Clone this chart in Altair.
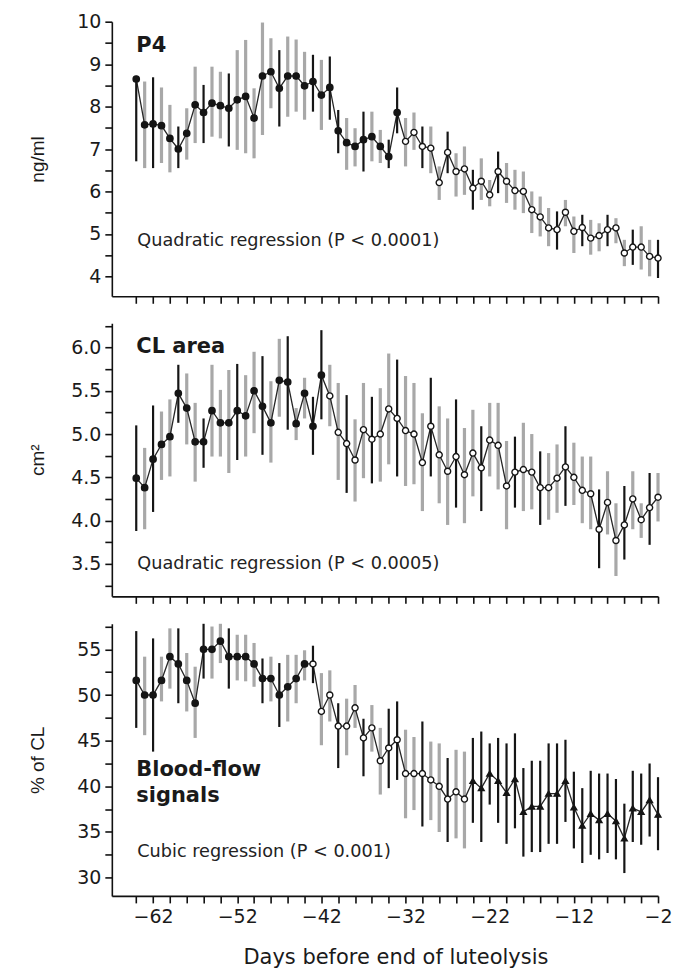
import altair as alt
import pandas as pd

# Days before end of luteolysis (one value per day)
days = list(range(-64, -1))

# Progesterone (ng/ml): mean and whisker ends
p4_mean = [8.65, 7.57, 7.59, 7.55, 7.25, 7.00, 7.37, 8.04, 7.86, 8.08,
           8.02, 7.96, 8.16, 8.24, 7.73, 8.72, 8.82, 8.43, 8.72, 8.72,
           8.49, 8.59, 8.27, 8.45, 7.43, 7.15, 7.06, 7.22, 7.29, 7.06,
           6.82, 7.86, 7.18, 7.39, 7.06, 7.02, 6.21, 6.92, 6.47, 6.53,
           6.08, 6.24, 5.92, 6.47, 6.24, 6.02, 6.00, 5.57, 5.40, 5.14,
           5.10, 5.51, 5.06, 5.15, 4.90, 4.96, 5.10, 5.14, 4.55, 4.69,
           4.69, 4.47, 4.43]
p4_hi = [8.72, 8.59, 8.69, 8.45, 8.04, 7.53, 7.96, 8.94, 8.51, 8.94,
         8.82, 8.78, 9.33, 9.57, 8.43, 9.98, 9.61, 9.33, 9.65, 9.58,
         9.29, 9.22, 9.10, 9.18, 7.92, 7.73, 7.49, 7.88, 7.88, 7.45,
         7.22, 8.45, 7.73, 7.86, 7.53, 7.53, 6.59, 7.41, 6.90, 7.06,
         6.51, 6.78, 6.27, 6.94, 6.67, 6.51, 6.47, 6.00, 5.88, 5.61,
         5.53, 5.80, 5.41, 5.45, 5.33, 5.25, 5.45, 5.37, 4.86, 5.10,
         5.18, 4.86, 4.86]
p4_lo = [6.71, 6.55, 6.55, 6.67, 6.45, 6.55, 6.75, 7.14, 7.14, 7.29,
         7.25, 7.06, 6.98, 6.90, 6.78, 7.33, 7.96, 7.53, 7.76, 7.88,
         7.69, 7.88, 7.45, 7.69, 6.90, 6.51, 6.59, 6.47, 6.71, 6.67,
         6.55, 7.37, 6.59, 6.98, 6.55, 6.43, 5.80, 6.43, 5.88, 5.92,
         5.57, 5.80, 5.65, 5.96, 5.73, 5.57, 5.49, 5.02, 4.94, 4.71,
         4.63, 5.18, 4.55, 4.71, 4.51, 4.59, 4.71, 4.78, 4.24, 4.27,
         4.16, 4.00, 3.96]
p4_set = list("DLDLLDLLDL" "LDLLLLLDLL" "LDLDDLLDLL" "DDLLDLLDLL"
              "DLLDLLLLLL" "DLLDLLDLLD" "LLD")

# Corpus luteum area (cm2)
cl_mean = [4.49, 4.38, 4.71, 4.88, 4.97, 5.47, 5.30, 4.91, 4.91, 5.27,
           5.13, 5.13, 5.27, 5.21, 5.50, 5.32, 5.13, 5.62, 5.60, 5.12,
           5.47, 5.09, 5.68, 5.44, 5.02, 4.89, 4.70, 5.05, 4.94, 5.00,
           5.29, 5.18, 5.04, 5.00, 4.67, 5.09, 4.76, 4.57, 4.74, 4.53,
           4.78, 4.61, 4.93, 4.87, 4.40, 4.56, 4.59, 4.56, 4.38, 4.38,
           4.49, 4.62, 4.50, 4.35, 4.31, 3.90, 4.21, 3.77, 3.95, 4.25,
           4.01, 4.15, 4.27]
cl_hi = [5.10, 4.84, 5.33, 5.26, 5.40, 5.80, 5.70, 5.36, 5.18, 5.80,
         5.51, 5.74, 5.81, 5.68, 5.95, 5.90, 5.61, 6.10, 6.13, 5.30,
         5.65, 5.43, 6.20, 5.80, 5.59, 5.45, 5.17, 5.59, 5.43, 5.53,
         5.93, 5.86, 5.67, 5.59, 5.24, 5.65, 5.32, 5.18, 5.40, 5.07,
         5.28, 5.09, 5.36, 5.36, 4.92, 4.97, 5.13, 5.00, 4.80, 4.78,
         4.88, 5.09, 4.90, 4.74, 4.74, 4.36, 4.57, 4.20, 4.40, 4.57,
         4.20, 4.55, 4.55]
cl_lo = [3.88, 3.90, 4.10, 4.47, 4.51, 5.13, 4.88, 4.45, 4.61, 4.74,
         4.74, 4.55, 4.70, 4.74, 5.01, 4.76, 4.67, 5.20, 5.05, 4.93,
         5.18, 4.76, 5.17, 5.09, 4.47, 4.32, 4.22, 4.49, 4.43, 4.45,
         4.65, 4.51, 4.40, 4.42, 4.11, 4.51, 4.20, 3.95, 4.15, 3.97,
         4.28, 4.11, 4.51, 4.36, 3.90, 4.15, 4.11, 4.13, 3.95, 4.01,
         4.09, 4.17, 4.18, 3.97, 3.90, 3.45, 3.84, 3.36, 3.55, 3.90,
         3.80, 3.72, 3.99]
cl_set = list("DLDLLDLLDL" "LLDLLDLLDL" "LDDLLDLLDL" "LDLLLDLLDL"
              "LDLLLDLLDL" "LDLLLDLLDL" "LDL")

# Blood-flow signals (% of CL)
bf_mean = [51.6, 50.0, 50.0, 51.6, 54.2, 53.4, 51.6, 49.1, 55.0, 55.0,
           55.9, 54.2, 54.2, 54.2, 53.4, 51.8, 51.8, 50.0, 50.9, 51.8,
           53.4, 53.4, 48.2, 50.0, 46.6, 46.6, 48.6, 45.3, 46.4, 42.8,
           44.2, 45.1, 41.4, 41.4, 41.4, 40.7, 40.0, 38.6, 39.4, 38.6,
           40.6, 39.8, 41.4, 40.6, 39.3, 40.8, 37.2, 37.8, 37.8, 39.2,
           39.2, 40.6, 37.7, 35.7, 37.0, 36.3, 37.0, 36.2, 34.3, 37.6,
           37.2, 38.5, 36.9]
bf_hi = [57.0, 54.2, 56.2, 54.2, 57.3, 57.3, 54.6, 53.1, 57.8, 57.5,
         57.8, 57.3, 56.6, 56.6, 55.7, 54.0, 54.2, 53.5, 54.4, 54.4,
         54.9, 55.4, 52.4, 52.7, 49.1, 49.6, 51.1, 47.4, 48.9, 46.4,
         48.5, 49.3, 46.2, 45.4, 47.1, 44.9, 44.7, 43.1, 44.0, 43.8,
         45.3, 46.0, 44.7, 45.3, 44.7, 45.8, 42.0, 42.8, 42.8, 44.7,
         44.7, 45.1, 41.6, 39.8, 41.7, 41.4, 41.4, 40.8, 38.1, 41.7,
         41.4, 42.5, 41.0]
bf_lo = [46.4, 45.6, 43.8, 49.3, 50.7, 49.1, 48.2, 45.3, 51.8, 51.8,
         53.5, 50.7, 51.6, 51.5, 50.9, 49.1, 49.3, 46.5, 47.1, 49.1,
         51.6, 51.3, 44.5, 47.1, 42.0, 43.4, 46.4, 41.1, 43.8, 39.1,
         39.8, 40.7, 36.5, 37.4, 35.6, 36.3, 35.0, 33.9, 34.3, 33.2,
         36.0, 33.9, 38.0, 36.0, 33.7, 35.4, 32.3, 32.8, 32.8, 33.7,
         33.7, 36.1, 33.2, 31.6, 32.5, 32.0, 32.7, 32.0, 30.5, 33.9,
         33.6, 34.5, 33.0]
bf_set = list("DLDLLDLLDL" "LDLLLDLDLL" "LDLLDLLDLL" "DDLLDLLDLL"
              "DDDDDDDDDD" "DDDDDDDDDD" "DDD")

# Marker groups: first day of the open-circle run and of the triangle run
p4_open_from, p4_tri_from = -32, None
cl_open_from, cl_tri_from = -41, None
bf_open_from, bf_tri_from = -43, -24

# Tick values
x_ticks = [-64, -62, -60, -58, -56, -54, -52, -50, -48, -46, -44, -42, -40,
           -38, -36, -34, -32, -30, -28, -26, -24, -22, -20, -18, -16, -14,
           -12, -10, -8, -6, -4, -2]
p4_ticks = [4, 4.5, 5, 5.5, 6, 6.5, 7, 7.5, 8, 8.5, 9, 9.5, 10]
cl_ticks = [3.25, 3.5, 3.75, 4.0, 4.25, 4.5, 4.75, 5.0, 5.25, 5.5, 5.75,
            6.0, 6.25]
bf_ticks = [30, 32.5, 35, 37.5, 40, 42.5, 45, 47.5, 50, 52.5, 55, 57.5]

# Texts
y_titles = ["ng/ml", "cm²", "% of CL"]
panel_names = ["P4", "CL area", "Blood-flow\nsignals"]
regression_notes = ["Quadratic regression (P < 0.0001)",
                    "Quadratic regression (P < 0.0005)",
                    "Cubic regression (P < 0.001)"]
x_title = "Days before end of luteolysis"

WIDTH = 547
X_DOMAIN = [-66.9, -2]
SANS = "DejaVu Sans"
DARK = "#151515"
LIGHT = "#a8a8a8"


def make_frame(mean, hi, lo, sets, open_from, tri_from):
    phase = []
    for d in days:
        if tri_from is not None and d >= tri_from:
            phase.append("triangle")
        elif d >= open_from:
            phase.append("open")
        else:
            phase.append("filled")
    return pd.DataFrame({"day": days, "mean": mean, "hi": hi, "lo": lo,
                         "set": sets, "phase": phase})


def panel(df, y_domain, y_ticks, label_expr, y_title, name, name_y,
          note, note_y, height, bottom):
    if bottom:
        x_axis = alt.Axis(values=x_ticks, title=x_title, labelFlush=False,
                          labelOverlap=False, labelBound=False,
                          labelExpr="(datum.value + 2) % 10 == 0 ? datum.label : ''",
                          labelPadding=5, titleFont=SANS, titleFontSize=21,
                          titleFontWeight="normal", titlePadding=20,
                          titleX=284)
    else:
        x_axis = alt.Axis(values=x_ticks, labels=False, title=None)
    y_axis = alt.Axis(values=y_ticks, labelExpr=label_expr, title=y_title,
                      labelPadding=4, labelOverlap=False, labelBound=False,
                      labelFlush=False, titleX=-74, titleBaseline="middle")
    xs = alt.Scale(domain=X_DOMAIN, nice=False, zero=False)
    ys = alt.Scale(domain=y_domain, nice=False, zero=False)

    base = alt.Chart(df)
    whisk = lambda shade, color, w: base.transform_filter(
        alt.datum.set == shade).mark_rule(color=color, strokeWidth=w).encode(
        x=alt.X("day:Q", scale=xs, axis=x_axis),
        y=alt.Y("lo:Q", scale=ys, axis=y_axis),
        y2="hi:Q")
    light = whisk("L", LIGHT, 3.2)
    dark = whisk("D", DARK, 2.2)
    line = base.mark_line(color="#262626", strokeWidth=1.3).encode(
        x=alt.X("day:Q", scale=xs, axis=x_axis),
        y=alt.Y("mean:Q", scale=ys, axis=y_axis))
    pts = base.mark_point(opacity=1, strokeWidth=1.4).encode(
        x=alt.X("day:Q", scale=xs, axis=x_axis),
        y=alt.Y("mean:Q", scale=ys, axis=y_axis),
        shape=alt.Shape("phase:N", legend=None, scale=alt.Scale(
            domain=["filled", "open", "triangle"],
            range=["circle", "circle", "triangle-up"])),
        fill=alt.Fill("phase:N", legend=None, scale=alt.Scale(
            domain=["filled", "open", "triangle"],
            range=[DARK, "#ffffff", DARK])),
        size=alt.Size("phase:N", legend=None, scale=alt.Scale(
            domain=["filled", "open", "triangle"], range=[40, 34, 58])),
        stroke=alt.value(DARK))
    title_txt = alt.Chart(pd.DataFrame({"t": [name]})).mark_text(
        align="left", baseline="alphabetic", font=SANS, fontSize=21,
        fontWeight="bold", color="#1a1a1a", lineBreak="\n", lineHeight=26
    ).encode(x=alt.value(24.5), y=alt.value(name_y), text="t:N")
    note_txt = alt.Chart(pd.DataFrame({"t": [note]})).mark_text(
        align="left", baseline="alphabetic", font=SANS, fontSize=17.7,
        color="#222222"
    ).encode(x=alt.value(25.5), y=alt.value(note_y), text="t:N")
    return alt.layer(light, line, dark, pts, title_txt, note_txt).properties(
        width=WIDTH, height=height)


p4 = panel(make_frame(p4_mean, p4_hi, p4_lo, p4_set, p4_open_from, p4_tri_from),
           [3.53, 10], p4_ticks,
           "datum.value % 1 == 0 ? format(datum.value, 'd') : ''",
           y_titles[0], panel_names[0], 30.5, regression_notes[0], 224.5,
           275, False)
cl = panel(make_frame(cl_mean, cl_hi, cl_lo, cl_set, cl_open_from, cl_tri_from),
           [3.125, 6.28], cl_ticks,
           "(datum.value * 2) % 1 == 0 ? format(datum.value, '.1f') : ''",
           y_titles[1], panel_names[1], 30, regression_notes[1], 246.5,
           273.5, False)
bf = panel(make_frame(bf_mean, bf_hi, bf_lo, bf_set, bf_open_from, bf_tri_from),
           [28.0, 57.8], bf_ticks,
           "datum.value % 5 == 0 ? format(datum.value, 'd') : ''",
           y_titles[2], panel_names[2], 152, regression_notes[2], 234,
           272.5, True)

chart = alt.vconcat(p4, cl, bf, spacing=27, bounds="flush").properties(
    padding={"left": 29, "top": 12, "right": 0, "bottom": 0}
).configure_view(stroke=None).configure_axis(
    domainColor="#111111", domainWidth=1.6, tickColor="#111111",
    tickWidth=1.6, tickSize=7, grid=False, labelFont=SANS, labelFontSize=19,
    labelColor="#1a1a1a", titleFont="Liberation Sans", titleFontSize=19,
    titleFontWeight="normal", titleColor="#1a1a1a")

chart.save("out.html", embed_options={"renderer": "svg", "actions": False})
